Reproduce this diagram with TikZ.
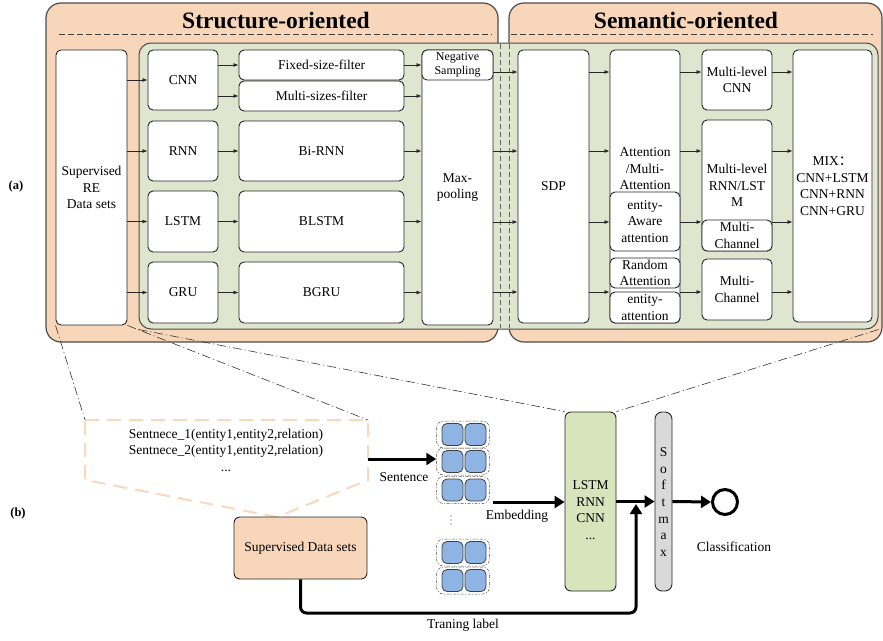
\documentclass[tikz,border=0pt]{standalone}
\usepackage{fontspec}
\setmainfont{Liberation Serif}
\newfontfamily\cjkfont{Noto Sans CJK SC}
\usetikzlibrary{arrows.meta,calc}
\definecolor{peach}{HTML}{F8D6B9}
\definecolor{peachline}{HTML}{FAD8BC}
\definecolor{olive}{HTML}{DFE5CF}
\definecolor{lgreen}{HTML}{D8E4BC}
\definecolor{cubeblue}{HTML}{8DB4E2}
\definecolor{sgray}{HTML}{D9D9D9}
\newcommand\mainfs{\fontsize{13.5}{16.5}\selectfont}
\newcommand\smallfs{\fontsize{12}{14}\selectfont}
\begin{document}
\begin{tikzpicture}[x=1pt,y=-1pt,
  obox/.style={draw=black!70, fill=peach, line width=1.2pt, rounded corners=15pt, inner sep=0pt},
  gbox/.style={draw=black!70, fill=olive, line width=1pt, rounded corners=12pt, inner sep=0pt},
  wbox/.style={draw=black!85, fill=white, line width=0.9pt, rounded corners=5pt, inner sep=0pt, align=center, font=\mainfs},
  sarr/.style={-{Latex[length=5pt,width=4pt]}, line width=0.8pt, black!85},
  tarr/.style={-{Triangle[length=10pt,width=12pt]}, line width=3pt, black},
  zoomline/.style={black!80, line width=0.6pt, dash pattern=on 9pt off 3pt on 1pt off 3pt},
  txt/.style={font=\mainfs, align=center, inner sep=0pt},
  cube/.style={draw=black!75, fill=cubeblue, line width=0.8pt, rounded corners=5pt, minimum width=21pt, minimum height=22pt, inner sep=0pt},
  cuberow/.style={draw=black!70, line width=0.5pt, dash pattern=on 3pt off 1.5pt on 1pt off 1.5pt, rounded corners=7pt, minimum width=53pt, minimum height=27pt, inner sep=0pt}
]
\useasboundingbox (0,0) rectangle (883,640);

% ---------- (a) ----------
\node[obox, minimum width=452pt, minimum height=339pt] (oleft) at (272,172.5) {};
\node[obox, minimum width=373pt, minimum height=339pt] (oright) at (695.5,172.5) {};
\node[font=\bfseries\fontsize{23.5}{26}\selectfont, inner sep=0pt] (t1) at (276,20) {Structure-oriented};
\node[font=\bfseries\fontsize{23.5}{26}\selectfont, inner sep=0pt] (t2) at (686,20) {Semantic-oriented};
\draw[black!75, line width=0.7pt, dash pattern=on 6pt off 3pt] (59,34) coordinate (d1a) -- (492,34) coordinate (d1b);
\draw[black!75, line width=0.7pt, dash pattern=on 6pt off 3pt] (511,34) coordinate (d2a) -- (873,34) coordinate (d2b);

\node[gbox, minimum width=739pt, minimum height=286pt] (grn) at (508.5,186) {};
\draw[black!60, line width=0.7pt, dash pattern=on 5pt off 3pt] (500,44) coordinate (v1a) -- (500,328) coordinate (v1b);
\draw[black!60, line width=0.7pt, dash pattern=on 5pt off 3pt] (509,44) coordinate (v2a) -- (509,328) coordinate (v2b);

\node[wbox, minimum width=71pt, minimum height=275pt] (sup) at (91.5,187.5) {Supervised\\RE\\Data sets};

\node[wbox, minimum width=70pt, minimum height=60pt] (cnn) at (183,80) {CNN};
\node[wbox, minimum width=70pt, minimum height=60pt] (rnn) at (183,151) {RNN};
\node[wbox, minimum width=70pt, minimum height=61pt] (lstm) at (183,221.5) {LSTM};
\node[wbox, minimum width=70pt, minimum height=61pt] (gru) at (183,292.5) {GRU};

\node[wbox, minimum width=165pt, minimum height=30pt] (fixed) at (321.5,65) {Fixed-size-filter};
\node[wbox, minimum width=165pt, minimum height=30pt] (multi) at (321.5,96) {Multi-sizes-filter};
\node[wbox, minimum width=165pt, minimum height=60pt] (birnn) at (321.5,151) {Bi-RNN};
\node[wbox, minimum width=165pt, minimum height=61pt] (blstm) at (321.5,221.5) {BLSTM};
\node[wbox, minimum width=165pt, minimum height=61pt] (bgru) at (321.5,292.5) {BGRU};

\node[wbox, minimum width=71pt, minimum height=275pt] (maxp) at (457.5,187.5) {Max-\\pooling};
\node[wbox, minimum width=71pt, minimum height=30pt, font=\smallfs] (neg) at (457.5,65) {Negative\\Sampling};

\node[wbox, minimum width=71pt, minimum height=273pt] (sdp) at (553.5,186.5) {SDP};

\node[wbox, minimum width=70pt, minimum height=273pt] (att) at (645,186.5) {};
\node[txt] (atttxt) at (645,169) {Attention\\/Multi-\\Attention};
\node[wbox, minimum width=70pt, minimum height=59pt] (eaware) at (645,221.5) {entity-\\Aware\\attention};
\node[wbox, minimum width=70pt, minimum height=30pt] (random) at (645,273) {Random\\Attention};
\node[wbox, minimum width=70pt, minimum height=31pt] (eatt) at (645,307.5) {entity-\\attention};

\node[wbox, minimum width=70pt, minimum height=60pt] (mlcnn) at (737,80) {Multi-level\\CNN};
\node[wbox, minimum width=70pt, minimum height=131pt] (mlrnn) at (737,185.5) {Multi-level\\RNN/LST\\M};
\node[wbox, minimum width=70pt, minimum height=31pt] (mc1) at (737,235.5) {Multi-\\Channel};
\node[wbox, minimum width=70pt, minimum height=61pt] (mc2) at (737,289.5) {Multi-\\Channel};

\node[wbox, minimum width=79pt, minimum height=272pt] (mix) at (832.5,186) {MIX{\cjkfont ：}\\CNN+LSTM\\CNN+RNN\\CNN+GRU};

% arrows (a)
\draw[sarr] (sup.east |- cnn) -- (cnn.west);
\draw[sarr] (sup.east |- rnn) -- (rnn.west);
\draw[sarr] (sup.east |- lstm) -- (lstm.west);
\draw[sarr] (sup.east |- gru) -- (gru.west);
\draw[sarr] (cnn.east |- fixed) -- (fixed.west);
\draw[sarr] (cnn.east |- multi) -- (multi.west);
\draw[sarr] (rnn.east) -- (birnn.west);
\draw[sarr] (lstm.east) -- (blstm.west);
\draw[sarr] (gru.east) -- (bgru.west);
\draw[sarr] (fixed.east) -- (neg.west);
\draw[sarr] (multi.east) -- (multi.east -| maxp.west);
\draw[sarr] (birnn.east) -- (birnn.east -| maxp.west);
\draw[sarr] (blstm.east) -- (blstm.east -| maxp.west);
\draw[sarr] (bgru.east) -- (bgru.east -| maxp.west);
\foreach \yy in {72,151,222,292}{
  \draw[sarr] (maxp.east |- 0,\yy) -- (sdp.west |- 0,\yy);
  \draw[sarr] (sdp.east |- 0,\yy) -- (att.west |- 0,\yy);
  \draw[sarr] (att.east |- 0,\yy) -- (mlcnn.west |- 0,\yy);
  \draw[sarr] (mlcnn.east |- 0,\yy) -- (mix.west |- 0,\yy);
}

\node[font=\bfseries\fontsize{12.5}{14}\selectfont, inner sep=0pt] (la) at (16,186) {(a)};
\node[font=\bfseries\fontsize{12.5}{14}\selectfont, inner sep=0pt] (lb) at (18,513) {(b)};

% ---------- (b) ----------
\coordinate (p1) at (85,420);
\coordinate (p2) at (368,420);
\coordinate (p3) at (368,480);
\coordinate (p4) at (277,517);
\coordinate (p5) at (85,480);
\draw[peachline, line width=2pt, dash pattern=on 14pt off 8pt] (p1) -- (p2) -- (p3) -- (p4) -- (p5) -- cycle;
\node[txt] (sents) at (226,450) {Sentnece\_1(entity1,entity2,relation)\\Sentnece\_2(entity1,entity2,relation)\\...};

\node[draw=black!85, fill=peach, line width=0.9pt, rounded corners=6pt, minimum width=133pt, minimum height=62pt, font=\mainfs, inner sep=0pt] (sdata) at (300.5,548) {Supervised Data sets};

\node[draw=black!85, fill=lgreen, line width=0.9pt, rounded corners=6pt, minimum width=51pt, minimum height=179pt, inner sep=0pt] (lstmb) at (590.5,501.5) {};
\node[txt] (lstmtxt) at (590.5,510) {LSTM\\RNN\\CNN\\...};

\node[draw=black!85, fill=sgray, line width=0.9pt, rounded corners=7pt, minimum width=17pt, minimum height=179pt, inner sep=0pt] (soft) at (663.5,501.5) {};
\node[font=\fontsize{13.5}{16.7}\selectfont, align=center, inner sep=0pt] (softtxt) at (663.5,502) {S\\o\\f\\t\\m\\a\\x};

\node[draw=black, line width=3pt, circle, minimum size=25pt, inner sep=0pt] (circ) at (725,502) {};
\node[txt] (cls) at (734,547) {Classification};

% cubes
\foreach \i/\yy in {1/434.5,2/461.5,3/490,4/552.5,5/580.5}{
  \node[cuberow] (row\i) at (463,\yy) {};
  \node[cube] (ca\i) at (452.5,\yy) {};
  \node[cube] (cb\i) at (475.5,\yy) {};
}
\fill[black!80] (451,516) circle (0.6pt) (451,520) circle (0.6pt) (451,524) circle (0.6pt);

% zoom lines
\draw[zoomline] (sup.south west) -- (p1);
\draw[zoomline] (sup.south east) -- (p2);
\draw[zoomline] (grn.south west) -- (lstmb.north west);
\draw[zoomline] (grn.south east) -- (lstmb.north east);

% thick arrows
\coordinate (sentfrom) at (368,459);
\draw[tarr] (sentfrom) -- (sentfrom -| row2.west);
\node[txt] (sentlbl) at (404,477) {Sentence};
\coordinate (embfrom) at (493,502);
\draw[tarr] (embfrom) -- (embfrom -| lstmb.west);
\node[txt] (emblbl) at (517,516) {Embedding};
\draw[tarr] (lstmb.east) -- (soft.west);
\draw[tarr] (soft.east) -- (circ.west);
\coordinate (tlcorner) at (636,613);
\coordinate (tlend) at (636,504);
\draw[tarr, rounded corners=6pt] (sdata.south) -- (sdata.south |- tlcorner) -- (tlcorner) -- (tlend);
\node[txt] (tllbl) at (463,625) {Traning label};
\end{tikzpicture}
\end{document}
